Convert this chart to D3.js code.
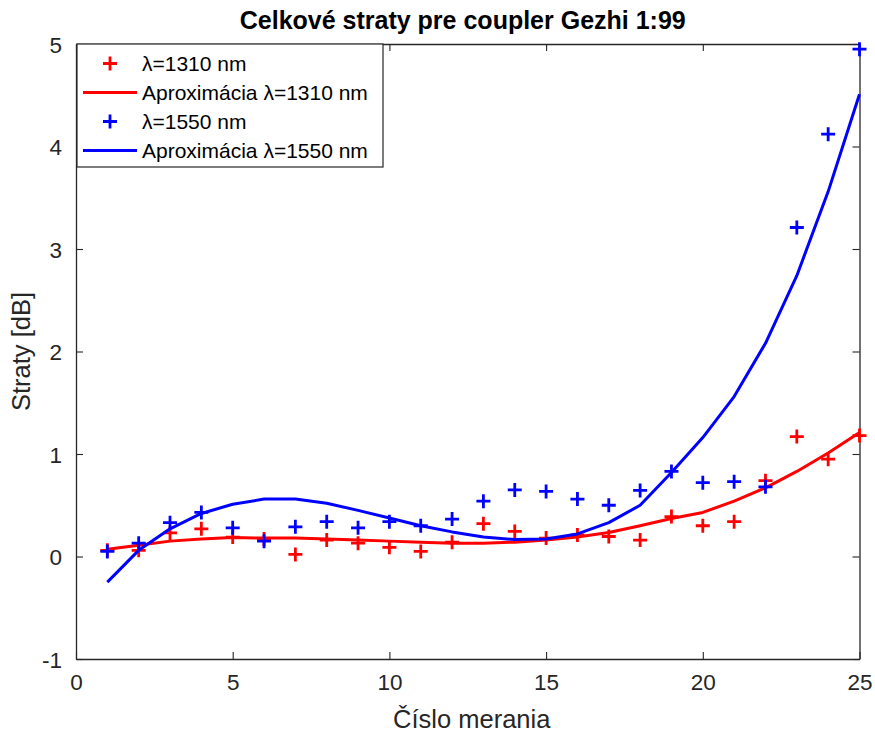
<!DOCTYPE html>
<html>
<head>
<meta charset="utf-8">
<script src="https://cdn.jsdelivr.net/npm/d3@7"></script>
<style>
  html, body { margin: 0; padding: 0; background: #fff; }
  svg { display: block; font-family: "Liberation Sans", Arial, Helvetica, sans-serif; }
</style>
</head>
<body>
<svg id="chart" width="875" height="732"></svg>
<script>
// Measurement index (číslo merania)
const measurements = d3.range(1, 26);

// Measured losses [dB] at 1310 nm
const loss1310 = [0.06, 0.06, 0.23, 0.27, 0.19, 0.17, 0.02, 0.16, 0.13, 0.09,
                  0.05, 0.14, 0.32, 0.245, 0.18, 0.21, 0.195, 0.16, 0.39, 0.30,
                  0.34, 0.74, 1.17, 0.95, 1.18];
// Polynomial approximation at 1310 nm
const fit1310 = [0.07, 0.11, 0.15, 0.17, 0.185, 0.18, 0.18, 0.17, 0.16, 0.15,
                 0.14, 0.13, 0.13, 0.14, 0.16, 0.19, 0.235, 0.30, 0.37, 0.43,
                 0.54, 0.67, 0.83, 1.01, 1.21];

// Measured losses [dB] at 1550 nm
const loss1550 = [0.05, 0.13, 0.33, 0.43, 0.28, 0.15, 0.29, 0.34, 0.28, 0.34,
                  0.30, 0.365, 0.54, 0.65, 0.635, 0.56, 0.50, 0.645, 0.83, 0.72,
                  0.73, 0.68, 3.21, 4.12, 4.95];
// Polynomial approximation at 1550 nm
const fit1550 = [-0.25, 0.06, 0.27, 0.42, 0.51, 0.56, 0.56, 0.52, 0.45, 0.375,
                 0.30, 0.24, 0.19, 0.165, 0.17, 0.22, 0.33, 0.50, 0.82, 1.16,
                 1.56, 2.08, 2.74, 3.56, 4.51];

const xTicks = [0, 5, 10, 15, 20, 25];
const yTicks = [-1, 0, 1, 2, 3, 4, 5];

const legendLabels = ["λ=1310 nm", "Aproximácia λ=1310 nm", "λ=1550 nm", "Aproximácia λ=1550 nm"];

const RED = "#ff0000", BLUE = "#0000ff", AXIS = "#262626";

const svg = d3.select("#chart");
const plotLeft = 76, plotRight = 859.5, plotTop = 44, plotBottom = 659;

const x = d3.scaleLinear().domain([0, 25]).range([plotLeft, plotRight]);
const y = d3.scaleLinear().domain([-1, 5]).range([plotBottom, plotTop]);

const tickLen = 7;
const fmt = d => String(d);

// Axes: bottom/left carry labels, top/right only ticks (boxed axes)
const gx = svg.append("g").attr("transform", `translate(0,${plotBottom})`)
  .call(d3.axisBottom(x).tickValues(xTicks).tickFormat(fmt).tickSizeInner(-tickLen).tickSizeOuter(0).tickPadding(15));
const gxTop = svg.append("g").attr("transform", `translate(0,${plotTop})`)
  .call(d3.axisTop(x).tickValues(xTicks).tickSizeInner(-tickLen).tickSizeOuter(0).tickFormat(""));
const gy = svg.append("g").attr("transform", `translate(${plotLeft},0)`)
  .call(d3.axisLeft(y).tickValues(yTicks).tickFormat(fmt).tickSizeInner(-tickLen).tickSizeOuter(0).tickPadding(14));
const gyR = svg.append("g").attr("transform", `translate(${plotRight},0)`)
  .call(d3.axisRight(y).tickValues(yTicks).tickSizeInner(-tickLen).tickSizeOuter(0).tickFormat(""));

[gx, gxTop, gy, gyR].forEach(g => {
  g.select(".domain").attr("stroke", AXIS).attr("stroke-width", 1.3);
  g.selectAll(".tick line").attr("stroke", AXIS).attr("stroke-width", 1.1);
  g.selectAll(".tick text").attr("fill", AXIS).attr("font-size", 22.5)
    .attr("font-family", "Liberation Sans, Arial, sans-serif");
});
gy.selectAll(".tick text").attr("dy", "0.36em");

// Title
svg.append("text")
  .attr("x", (plotLeft + plotRight) / 2 - 5).attr("y", 29)
  .attr("text-anchor", "middle").attr("font-weight", "bold").attr("font-size", 25)
  .attr("fill", "#000")
  .text("Celkové straty pre coupler Gezhi 1:99");

// Axis labels
svg.append("text")
  .attr("x", (plotLeft + plotRight) / 2 + 4).attr("y", 728)
  .attr("text-anchor", "middle").attr("font-size", 25.5).attr("fill", AXIS)
  .text("Číslo merania");
svg.append("text")
  .attr("transform", `translate(30,${(plotTop + plotBottom) / 2}) rotate(-90)`)
  .attr("text-anchor", "middle").attr("font-size", 25.5).attr("fill", AXIS)
  .text("Straty [dB]");

const plot = svg.append("g");

const line = d3.line().x((d, i) => x(measurements[i])).y(d => y(d));

const markerHalf = 7, markerStroke = 2.8;

function plusMarkers(values, color) {
  const s = markerHalf;
  plot.append("g").selectAll("path").data(values).join("path")
    .attr("d", (d, i) => {
      const cx = x(measurements[i]), cy = y(d);
      return `M${cx - s},${cy}H${cx + s}M${cx},${cy - s}V${cy + s}`;
    })
    .attr("stroke", color).attr("stroke-width", markerStroke).attr("fill", "none");
}

plusMarkers(loss1310, RED);
plot.append("path").datum(fit1310).attr("d", line)
  .attr("fill", "none").attr("stroke", RED).attr("stroke-width", 3).attr("stroke-linejoin", "round");
plusMarkers(loss1550, BLUE);
plot.append("path").datum(fit1550).attr("d", line)
  .attr("fill", "none").attr("stroke", BLUE).attr("stroke-width", 3).attr("stroke-linejoin", "round");

// Legend
const lg = svg.append("g");
lg.append("rect").attr("x", 77).attr("y", 44).attr("width", 306).attr("height", 123)
  .attr("fill", "#fff").attr("stroke", AXIS).attr("stroke-width", 1.2);
const rowY = [63.5, 92.5, 121.5, 150.5];
const legendItems = [
  { type: "marker", color: RED },
  { type: "line", color: RED },
  { type: "marker", color: BLUE },
  { type: "line", color: BLUE }
];
legendItems.forEach((it, i) => {
  const cy = rowY[i];
  if (it.type === "marker") {
    const s = markerHalf, cx = 110;
    lg.append("path").attr("d", `M${cx - s},${cy}H${cx + s}M${cx},${cy - s}V${cy + s}`)
      .attr("stroke", it.color).attr("stroke-width", markerStroke);
  } else {
    lg.append("line").attr("x1", 83).attr("x2", 137).attr("y1", cy).attr("y2", cy)
      .attr("stroke", it.color).attr("stroke-width", 3);
  }
  lg.append("text").attr("x", 142).attr("y", cy).attr("dy", "0.36em")
    .attr("font-size", 21).attr("fill", "#000").text(legendLabels[i]);
});
</script>
</body>
</html>
